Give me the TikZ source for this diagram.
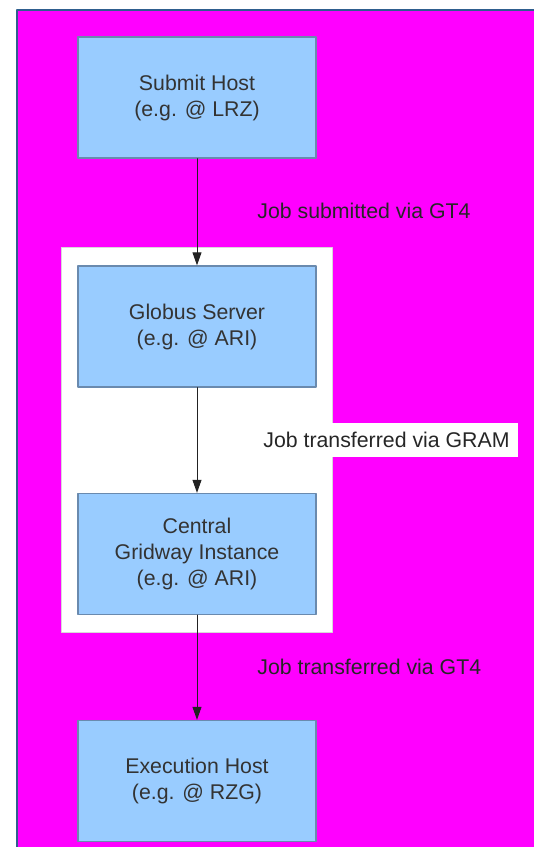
\documentclass[tikz,border=0pt]{standalone}
\usepackage{fontspec}
\setmainfont{Liberation Sans}
\usetikzlibrary{arrows.meta}
\definecolor{bgmagenta}{HTML}{FF00FF}
\definecolor{bgedge}{HTML}{2F5F8F}
\definecolor{boxfill}{HTML}{99CCFF}
\definecolor{boxedge}{HTML}{6A8AAE}
\definecolor{boxtext}{HTML}{333333}
\definecolor{flowline}{HTML}{222222}
\begin{document}
\begin{tikzpicture}[x=0.5pt, y=-0.5pt, font=\fontsize{10.65}{13}\selectfont, line join=round, line cap=round,
				>={Triangle[width=4.5pt,length=6.5pt]},
				hostbox/.style={draw=boxedge, fill=boxfill, line width=0.7pt, minimum width=119pt, minimum height=60.5pt, align=center, text=boxtext, inner sep=0pt},
				flowlabel/.style={anchor=west, inner sep=0pt, text=black!85}]
				\useasboundingbox (0,0) rectangle (534,847);
				\clip (0,0) rectangle (534,847);
				\path 
				(197,97.5) coordinate (S)
				(197,326.5) coordinate (G)
				(197,554) coordinate (C)
				(197,781) coordinate (E);
				\fill[bgmagenta] (17,10) rectangle (540,852);
				\draw[bgedge, line width=1pt] (17,852) -- (17,10) -- (540,10);
				\draw[draw=black!15, fill=white, line width=0.5pt] (61,247) rectangle (332,632);
				\node[hostbox] (submit) at (S) {Submit Host\\(e.g. @ LRZ)};
				\node[hostbox] (globus) at (G) {Globus Server\\(e.g. @ ARI)};
				\node[hostbox] (central) at (C) {Central\\Gridway Instance\\(e.g. @ ARI)};
				\node[hostbox] (exec) at (E) {Execution Host\\(e.g. @ RZG)};
				\draw[->, flowline, line width=0.5pt] (submit) -- (globus);
				\draw[->, flowline, line width=0.5pt] (globus) -- (central);
				\draw[->, flowline, line width=0.5pt] (central) -- (exec);
				\node[flowlabel] (gt4a) at (257,211) {Job submitted via GT4};
				\node[fill=white, inner sep=0pt, minimum width=131.5pt, minimum height=17pt, text=black!85] (gram) at (386.5,440) {Job transferred via GRAM};
				\node[flowlabel] (gt4b) at (257,667) {Job transferred via GT4};
				\end{tikzpicture}
\end{document}
